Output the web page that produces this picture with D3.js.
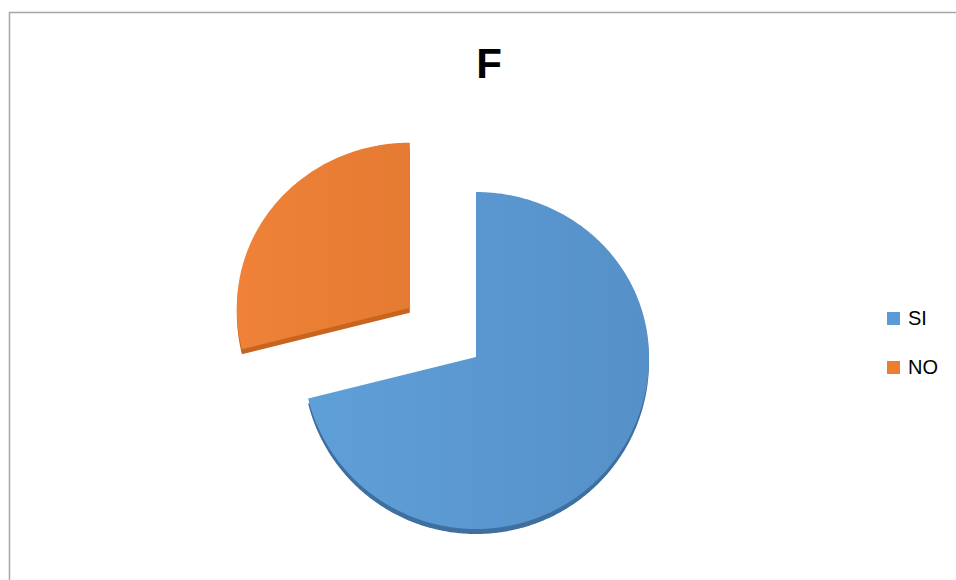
<!DOCTYPE html>
<html>
<head>
<meta charset="utf-8">
<script src="https://cdn.jsdelivr.net/npm/d3@7/dist/d3.min.js"></script>
<style>
  html, body { margin: 0; padding: 0; background: #ffffff; }
  svg { display: block; }
</style>
</head>
<body>
<svg id="chart" width="956" height="580"></svg>
<script>
// ---- data ----
const categories = ["SI", "NO"];
const values = [32, 13];
const colors = ["#5b9bd5", "#ed7d31"];
const colorsLight = ["#5f9fd8", "#ef8238"];
const colorsDark = ["#5690c8", "#e57a32"];
const sideColors = ["#3f6f9e", "#c9641f"];
const title = "F";

// ---- layout ----
const W = 956, H = 580;
const cx = 476, cy = 357;
const rx = 173, ryUp = 165, ryDown = 172;   // perspective-like ellipse
const thickness = 5;
const explodeIdx = 1, explodeDist = 84;

const svg = d3.select("#chart");

// frame
svg.append("path")
  .attr("d", `M9.5,${H} L9.5,12.5 L${W},12.5`)
  .attr("fill", "none")
  .attr("stroke", "#a6a6a6")
  .attr("stroke-width", 1.5);

// title
svg.append("text")
  .attr("x", 489).attr("y", 78)
  .attr("text-anchor", "middle")
  .attr("font-family", "'Liberation Sans Narrow', 'Liberation Sans', Arial, sans-serif")
  .attr("font-weight", "bold")
  .attr("font-size", 42)
  .attr("fill", "#000")
  .text(title);

// gradients
const defs = svg.append("defs");
categories.forEach((c, i) => {
  const g = defs.append("linearGradient")
    .attr("id", "grad" + i)
    .attr("x1", "0").attr("y1", "0").attr("x2", "1").attr("y2", "0");
  g.append("stop").attr("offset", "0").attr("stop-color", colorsLight[i]);
  g.append("stop").attr("offset", "1").attr("stop-color", colorsDark[i]);
});

const pie = d3.pie().sort(null).value(d => d)(values);

function pt(a) {
  const c = Math.cos(a);
  return [rx * Math.sin(a), -(c > 0 ? ryUp : ryDown) * c];
}
function slicePath(d) {
  const p = d3.path();
  p.moveTo(0, 0);
  const n = Math.max(2, Math.ceil((d.endAngle - d.startAngle) / 0.01));
  for (let k = 0; k <= n; k++) {
    const a = d.startAngle + (d.endAngle - d.startAngle) * k / n;
    const [x, y] = pt(a);
    p.lineTo(x, y);
  }
  p.closePath();
  return p.toString();
}

const slices = svg.append("g").selectAll("g")
  .data(pie)
  .join("g")
  .attr("transform", (d, i) => {
    let ox = 0, oy = 0;
    if (i === explodeIdx) {
      const mid = (d.startAngle + d.endAngle) / 2;
      const c = Math.cos(mid);
      ox = Math.sin(mid) * explodeDist;
      oy = -c * explodeDist * (c > 0 ? ryUp : ryDown) / rx;
    }
    return `translate(${cx + ox},${cy + oy})`;
  });

// side (3D thickness)
slices.append("path")
  .attr("d", slicePath)
  .attr("transform", `translate(0,${thickness})`)
  .attr("fill", (d, i) => sideColors[i]);

// top face
slices.append("path")
  .attr("d", slicePath)
  .attr("fill", (d, i) => `url(#grad${i})`);

// legend
const legend = svg.append("g").selectAll("g")
  .data(categories)
  .join("g")
  .attr("transform", (d, i) => `translate(887,${312 + i * 49})`);
legend.append("rect")
  .attr("width", 13).attr("height", 13)
  .attr("fill", (d, i) => colors[i]);
legend.append("text")
  .attr("x", 21).attr("y", 13)
  .attr("font-family", "'Liberation Sans', Arial, sans-serif")
  .attr("font-size", 20)
  .attr("fill", "#000")
  .text(d => d);
</script>
</body>
</html>
